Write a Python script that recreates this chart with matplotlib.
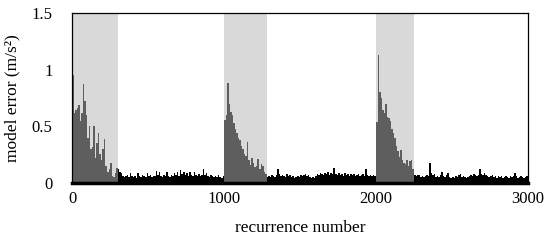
import numpy as np
import matplotlib
matplotlib.use("Agg")
import matplotlib.pyplot as plt

plt.rcParams['font.family'] = ['Liberation Serif', 'DejaVu Serif']

step = 10

# model error while the model is being retrained (grey)
train1_start = 0
train1 = [0.95, 0.62, 0.64, 0.66, 0.69, 0.55, 0.62, 0.87, 0.72, 0.60,
          0.40, 0.50, 0.30, 0.32, 0.50, 0.22, 0.35, 0.44, 0.26, 0.20,
          0.30, 0.39, 0.15, 0.10, 0.12, 0.18, 0.06, 0.05, 0.09, 0.13]
train2_start = 1000
train2 = [0.56, 0.60, 0.88, 0.70, 0.63, 0.60, 0.53, 0.48, 0.44, 0.40,
          0.38, 0.33, 0.30, 0.26, 0.24, 0.36, 0.20, 0.16, 0.22, 0.18,
          0.14, 0.15, 0.21, 0.12, 0.17, 0.15, 0.10, 0.08]
train3_start = 2000
train3 = [0.54, 1.13, 0.80, 0.75, 0.64, 0.62, 0.70, 0.58, 0.57, 0.55,
          0.48, 0.44, 0.40, 0.33, 0.28, 0.23, 0.29, 0.20, 0.18, 0.17,
          0.20, 0.15, 0.19, 0.20, 0.12]

# model error during normal operation (black)
run1_start = 300
run1 = [0.12, 0.10, 0.09, 0.06, 0.05, 0.06, 0.07, 0.05, 0.085, 0.06,
        0.05, 0.06, 0.04, 0.085, 0.06, 0.05, 0.07, 0.06, 0.05, 0.085,
        0.06, 0.07, 0.05, 0.06, 0.065, 0.11, 0.07, 0.10, 0.06, 0.05,
        0.07, 0.06, 0.10, 0.06, 0.05, 0.07, 0.06, 0.09, 0.07, 0.10,
        0.06, 0.115, 0.08, 0.10, 0.07, 0.085, 0.06, 0.10, 0.07, 0.06,
        0.10, 0.07, 0.06, 0.08, 0.06, 0.07, 0.125, 0.07, 0.085, 0.06,
        0.05, 0.07, 0.06, 0.05, 0.06, 0.05, 0.07, 0.05, 0.04, 0.06]
run2_start = 1280
run2 = [0.05, 0.06, 0.05, 0.07, 0.06, 0.05, 0.07, 0.12, 0.08, 0.06,
        0.07, 0.06, 0.05, 0.08, 0.06, 0.07, 0.05, 0.06, 0.04, 0.05,
        0.06, 0.05, 0.07, 0.06, 0.07, 0.08, 0.06, 0.07, 0.05, 0.04,
        0.05, 0.04, 0.06, 0.08, 0.07, 0.09, 0.08, 0.07, 0.09, 0.08,
        0.10, 0.07, 0.09, 0.08, 0.13, 0.08, 0.07, 0.09, 0.07, 0.08,
        0.06, 0.09, 0.07, 0.08, 0.06, 0.08, 0.07, 0.08, 0.06, 0.07,
        0.08, 0.06, 0.07, 0.08, 0.06, 0.12, 0.07, 0.06, 0.07, 0.06,
        0.07, 0.06]
run3_start = 2250
run3 = [0.07, 0.06, 0.07, 0.07, 0.05, 0.06, 0.05, 0.06, 0.07, 0.06,
        0.18, 0.09, 0.07, 0.08, 0.05, 0.06, 0.05, 0.07, 0.10, 0.06,
        0.05, 0.07, 0.09, 0.05, 0.04, 0.05, 0.04, 0.06, 0.05, 0.07,
        0.08, 0.05, 0.06, 0.05, 0.04, 0.05, 0.06, 0.07, 0.06, 0.08,
        0.07, 0.06, 0.07, 0.12, 0.08, 0.07, 0.09, 0.07, 0.06, 0.05,
        0.06, 0.07, 0.05, 0.06, 0.04, 0.06, 0.05, 0.06, 0.04, 0.05,
        0.06, 0.05, 0.04, 0.06, 0.05, 0.06, 0.09, 0.06, 0.04, 0.05,
        0.06, 0.05, 0.04, 0.05, 0.06]

shade_spans = [(0, 300), (1000, 1285), (2000, 2250)]

x_ticks = [0, 1000, 2000, 3000]
y_ticks = [0, 0.5, 1, 1.5]
y_tick_labels = ["0", "0.5", "1", "1.5"]

fig = plt.figure(figsize=(5.5, 2.45), dpi=100)
ax = fig.add_axes([0.131, 0.253, 0.829, 0.694])

for a, b in shade_spans:
    ax.axvspan(a, b, color="#d9d9d9", lw=0, zorder=0)

for start, vals in [(train1_start, train1), (train2_start, train2), (train3_start, train3)]:
    edges = start + step * np.arange(len(vals) + 1)
    ax.stairs(vals, edges, fill=True, color="#5e5e5e", lw=0, zorder=2)

for start, vals in [(run1_start, run1), (run2_start, run2), (run3_start, run3)]:
    edges = start + step * np.arange(len(vals) + 1)
    ax.stairs(vals, edges, fill=True, color="black", lw=0, zorder=2)

ax.set_xlim(0, 3000)
ax.set_ylim(0, 1.5)
ax.set_xticks(x_ticks)
ax.set_yticks(y_ticks)
ax.set_yticklabels(y_tick_labels)
ax.tick_params(length=0, labelsize=12)
ax.tick_params(axis="y", pad=14)
ax.tick_params(axis="x", pad=6)

for s in ["top", "right", "left"]:
    ax.spines[s].set_linewidth(0.9)
ax.spines["bottom"].set_linewidth(2.5)

ax.set_xlabel("recurrence number", fontsize=12.5, labelpad=9)
ax.set_ylabel("model error (m/s²)", fontsize=12.5, labelpad=8)

fig.savefig("out.png", dpi=100)
